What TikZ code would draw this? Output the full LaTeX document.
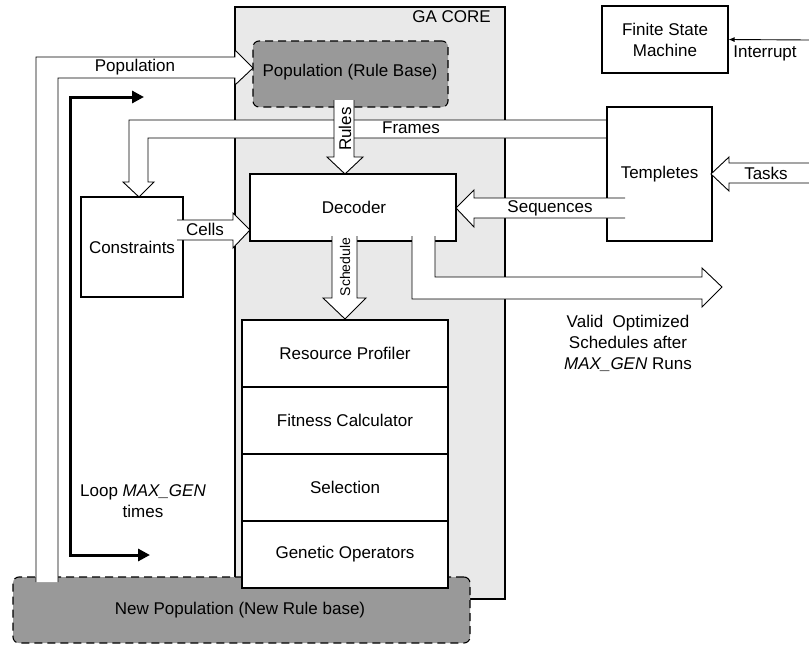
\documentclass[tikz,border=0pt]{standalone}
\usepackage{fontspec}
\setmainfont{Liberation Sans}
\usetikzlibrary{arrows.meta}
\definecolor{coregray}{RGB}{233,233,233}
\definecolor{popgray}{RGB}{153,153,153}
\tikzset{
  every node/.style={font=\fontsize{17}{21}\selectfont, inner sep=0pt, align=center},
  box/.style={draw=black, line width=1.1pt, fill=white},
  popbox/.style={draw=black, line width=1.1pt, fill=popgray, dash pattern=on 8pt off 5pt, rounded corners=6pt},
  arrfill/.style={fill=white},
  arrline/.style={draw=black, line width=0.9pt, line join=miter},
}
\begin{document}
\begin{tikzpicture}[x=1pt,y=-1pt]
\useasboundingbox (0,0) rectangle (809,656);
% GA core
\node[draw=black, line width=1.1pt, fill=coregray, minimum width=270, minimum height=592] (core) at (370,303) {};
\node[anchor=north east] (corelbl) at (491,10) {GA CORE};
% New population
\node[popbox, minimum width=457, minimum height=66] (newpop) at (241.5,610) {};
\node (newpoplbl) at (240,610) {New Population (New Rule base)};
% Population (rule base)
\node[popbox, minimum width=195, minimum height=66] (pop) at (350.5,74) {};
\node (poplbl) at (350,72) {Population (Rule Base)};
% Frames arrow
\fill[arrfill] (625,120) -- (129,120) -- (129,182) -- (123,182) -- (139,197) -- (154,182) -- (148,182) -- (148,138) -- (625,138) -- cycle;
\draw[arrline] (625,120) -- (129,120) -- (129,182) -- (123,182) -- (139,197) -- (154,182) -- (148,182) -- (148,138) -- (625,138);
\node (frameslbl) at (411,128) {Frames};
% Rules arrow
\fill[arrfill] (334,100) -- (334,157) -- (327,157) -- (345,174) -- (363,157) -- (354,157) -- (354,100) -- cycle;
\draw[arrline] (334,100) -- (334,157) -- (327,157) -- (345,174) -- (363,157) -- (354,157) -- (354,100);
\node[rotate=90] (ruleslbl) at (345,129) {Rules};
% Boxes
\node[box, minimum width=206, minimum height=67] (dec) at (353,207.5) {};
\node (declbl) at (354,207) {Decoder};
\node[box, minimum width=102, minimum height=100] (cons) at (132,247) {Constraints};
\node[box, minimum width=105, minimum height=134] (tmpl) at (659.5,174) {Templetes};
\node[box, minimum width=126, minimum height=67] (fsm) at (665,39.5) {Finite State\\Machine};
% Cells arrow
\fill[arrfill] (177,220) -- (233,220) -- (233,213) -- (250,230) -- (233,248) -- (233,240) -- (177,240) -- cycle;
\draw[arrline] (177,220) -- (233,220) -- (233,213) -- (250,230) -- (233,248) -- (233,240) -- (177,240);
\node (cellslbl) at (205,229) {Cells};
% Sequences arrow
\fill[arrfill] (625,198) -- (474,198) -- (474,190) -- (456,208) -- (474,227) -- (474,218) -- (625,218) -- cycle;
\draw[arrline] (625,198) -- (474,198) -- (474,190) -- (456,208) -- (474,227) -- (474,218) -- (625,218);
\node (seqlbl) at (550,208) {Sequences};
% Tasks arrow
\fill[arrfill] (809,163) -- (729,163) -- (729,157) -- (711,174) -- (729,191) -- (729,183) -- (809,183) -- cycle;
\draw[arrline] (809,163) -- (729,163) -- (729,157) -- (711,174) -- (729,191) -- (729,183) -- (809,183);
\node (taskslbl) at (766,173) {Tasks};
% Interrupt
\coordinate (intsrc) at (809,40);
\draw[line width=0.9pt, -{Latex[length=6pt,width=5pt]}] (intsrc) -- (fsm.east);
\node (intlbl) at (765,53) {Interrupt};
% Schedule arrow
\fill[arrfill] (332,236) -- (332,298) -- (323,298) -- (345,319) -- (366,298) -- (357,298) -- (357,236) -- cycle;
\draw[arrline] (332,236) -- (332,298) -- (323,298) -- (345,319) -- (366,298) -- (357,298) -- (357,236);
\node[rotate=90, font=\fontsize{14}{16}\selectfont] (schedlbl) at (345,267) {Schedule};
% Output arrow
\fill[arrfill] (435,236) -- (435,277) -- (702,277) -- (702,268) -- (722,287) -- (702,307) -- (702,299) -- (412,299) -- (412,236) -- cycle;
\draw[arrline] (435,236) -- (435,277) -- (702,277) -- (702,268) -- (722,287) -- (702,307) -- (702,299) -- (412,299) -- (412,236);
\node (validlbl) at (628,343) {Valid\ \ Optimized\\Schedules after\\\textit{MAX\_GEN} Runs};
% Stack
\node[box, minimum width=206, minimum height=67] (rp) at (345,353.5) {Resource Profiler};
\node[box, minimum width=206, minimum height=67] (fc) at (345,420.5) {Fitness Calculator};
\node[box, minimum width=206, minimum height=67] (sel) at (345,487.5) {Selection};
\node[box, minimum width=206, minimum height=67] (go) at (345,554.5) {Genetic Operators};
% Population arrow
\fill[arrfill] (36,582) -- (36,57) -- (235,57) -- (235,50) -- (253,68) -- (235,85) -- (235,78) -- (58,78) -- (58,582) -- cycle;
\draw[arrline] (36,582) -- (36,57) -- (235,57) -- (235,50) -- (253,68) -- (235,85) -- (235,78) -- (58,78) -- (58,582);
\node (populbl) at (135,67) {Population};
% Loop arrow
\coordinate (looptop) at (144,97);
\coordinate (loopbot) at (150,555);
\draw[line width=3pt, arrows={Triangle[length=12pt,width=12pt]-Triangle[length=12pt,width=12pt]}] (looptop) -- (70,97) -- (70,555) -- (loopbot);
\node (looplbl) at (143,501) {Loop \textit{MAX\_GEN}\\times};
\end{tikzpicture}
\end{document}
